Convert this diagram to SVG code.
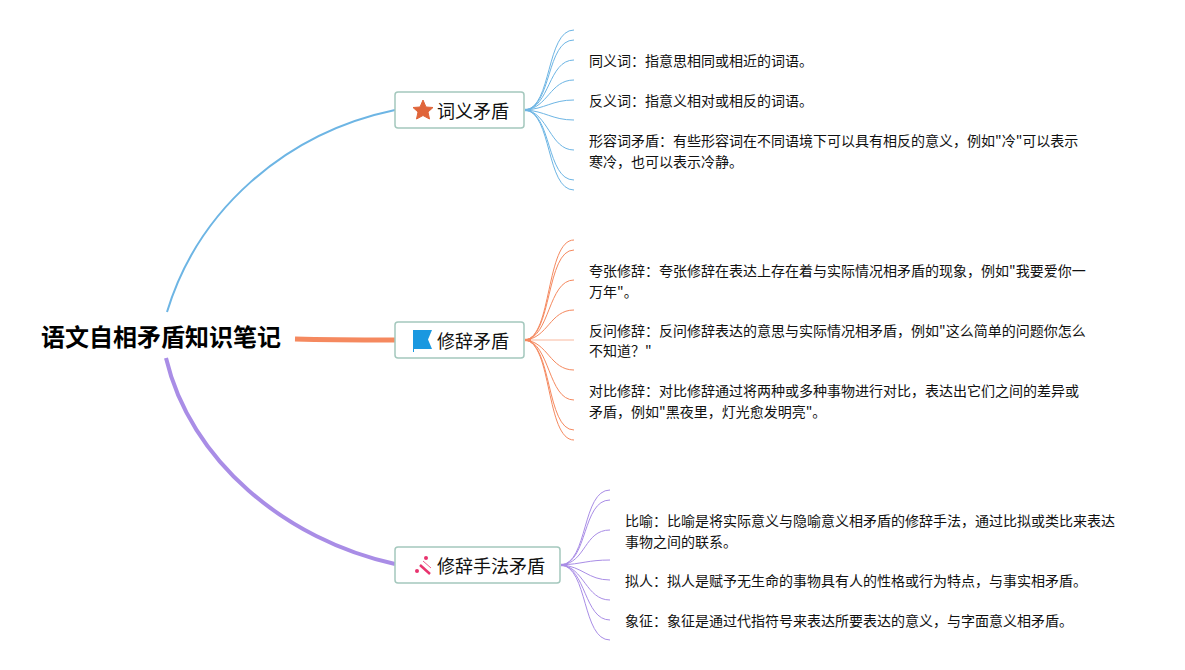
<svg xmlns="http://www.w3.org/2000/svg" width="1185" height="670" viewBox="0 0 1185 670">
<style>
text{font-family:"Noto Sans CJK SC","Noto Sans",sans-serif;fill:#111}
.t{font-size:14px}
.n{font-size:18px}
.box{fill:#fff;stroke:#a4c8bd;stroke-width:1.5}
.c{fill:none}
.b{stroke:#6db5e4}.o{stroke:#f5895f}.p{stroke:#a98de6}
.f{stroke-width:1}
</style>
<rect width="1185" height="670" fill="#fff"/>
<g id="connectors">
<path class="c b" stroke-width="2" d="M167 312C198 210 285 133 395 110"/>
<path class="c o" stroke-width="5" d="M295 339C330 340 360 340 395 340"/>
<path class="c p" stroke-width="4" d="M166 358C190 460 285 540 395 564"/>
<path class="c b" stroke-width="2.500" d="M525 110H531"/>
<path class="c o" stroke-width="2.500" d="M525 340H531"/>
<path class="c p" stroke-width="2.500" d="M561 565H567"/>
<g class="c b f">
<path d="M525 110C552 108 546 30 574 30"/><path d="M525 110C552 108 546 40 574 40"/><path d="M525 110C550 108 548 60 574 60"/><path d="M525 110C548 108 550 80 574 80"/><path d="M525 110C545 109 552 100 574 100"/><path d="M525 110C545 111 552 120 574 120"/><path d="M525 110C548 112 550 150 574 150"/><path d="M525 110C552 112 546 180 574 180"/><path d="M525 110C552 112 546 190 574 190"/>
</g>
<g class="c o f">
<path d="M525 340C552 338 546 240 574 240"/><path d="M525 340C552 338 546 250 574 250"/><path d="M525 340C550 338 548 280 574 280"/><path d="M525 340C548 338 550 310 574 310"/><path d="M525 340L574 340" opacity=".6"/><path d="M525 340C548 342 550 370 574 370"/><path d="M525 340C550 342 548 400 574 400"/><path d="M525 340C552 342 546 430 574 430"/><path d="M525 340C552 342 546 440 574 440"/>
</g>
<g class="c p f">
<path d="M561 565C588 563 582 490 610 490"/><path d="M561 565C588 563 582 500 610 500"/><path d="M561 565C586 563 584 530 610 530"/><path d="M561 565C582 564 588 560 610 560"/><path d="M561 565C582 566 588 580 610 580"/><path d="M561 565C584 567 586 600 610 600"/><path d="M561 565C586 567 584 620 610 620"/><path d="M561 565C588 567 582 640 610 640"/>
</g>
</g>
<g id="root"><text x="161" y="345.500" text-anchor="middle" style="font-size:24px;font-weight:700;fill:#000">语文自相矛盾知识笔记</text></g>
<g id="n1">
<rect class="box" x="395" y="92" width="129" height="36" rx="3"/>
<polygon points="423,100 426,107 433,107.500 428,112 429.500,119 423,115.500 416.500,119 418,112 413,107.500 420,107" fill="#e0653a" stroke="#e0653a" stroke-linejoin="round"/>
<text class="n" x="437" y="118">词义矛盾</text>
</g>
<g id="n2">
<rect class="box" x="395" y="322" width="129" height="36" rx="3"/>
<path d="M413 330H432L428 339.500L432 349H414V352H413Z" fill="#1a98e0"/>
<text class="n" x="437" y="348">修辞矛盾</text>
</g>
<g id="n3">
<rect class="box" x="395" y="547" width="165" height="36" rx="3"/>
<path d="M420 565L430 574" stroke="#e8336e" stroke-width="2.500"/>
<path d="M423 561L431 568" stroke="#e8336e" stroke-width=".8"/>
<circle cx="426" cy="558" r="2" fill="#e8336e"/><circle cx="417" cy="571" r="2" fill="#e8336e"/>
<text class="n" x="437" y="573">修辞手法矛盾</text>
</g>
<g id="t1">
<text class="t" x="589" y="66">同义词：指意思相同或相近的词语。</text>
<text class="t" x="589" y="106">反义词：指意义相对或相反的词语。</text>
<text class="t" x="589" y="146">形容词矛盾：有些形容词在不同语境下可以具有相反的意义，例如"冷"可以表示</text>
<text class="t" x="589" y="167">寒冷，也可以表示冷静。</text>
</g>
<g id="t2">
<text class="t" x="589" y="276">夸张修辞：夸张修辞在表达上存在着与实际情况相矛盾的现象，例如"我要爱你一</text>
<text class="t" x="589" y="297">万年"。</text>
<text class="t" x="589" y="336">反问修辞：反问修辞表达的意思与实际情况相矛盾，例如"这么简单的问题你怎么</text>
<text class="t" x="589" y="356">不知道？"</text>
<text class="t" x="589" y="396">对比修辞：对比修辞通过将两种或多种事物进行对比，表达出它们之间的差异或</text>
<text class="t" x="589" y="417">矛盾，例如"黑夜里，灯光愈发明亮"。</text>
</g>
<g id="t3">
<text class="t" x="625" y="526">比喻：比喻是将实际意义与隐喻意义相矛盾的修辞手法，通过比拟或类比来表达</text>
<text class="t" x="625" y="547">事物之间的联系。</text>
<text class="t" x="625" y="586">拟人：拟人是赋予无生命的事物具有人的性格或行为特点，与事实相矛盾。</text>
<text class="t" x="625" y="626">象征：象征是通过代指符号来表达所要表达的意义，与字面意义相矛盾。</text>
</g>
</svg>
